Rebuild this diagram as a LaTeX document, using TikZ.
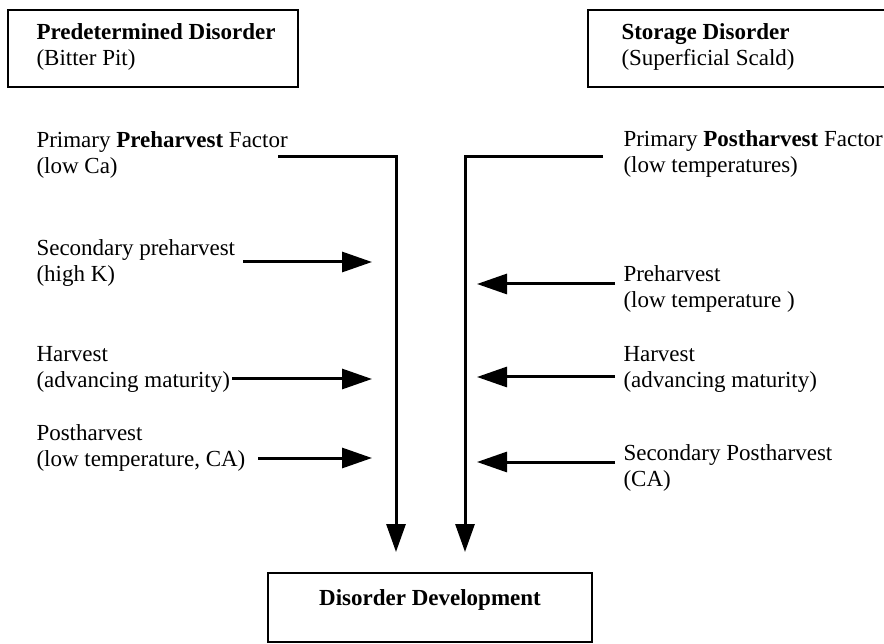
\documentclass[tikz,border=0pt]{standalone}
\usepackage{fontspec}
\setmainfont{Liberation Serif}
\usetikzlibrary{arrows.meta}

\begin{document}
\begin{tikzpicture}[x=1pt, y=-1pt, line width=3pt,
  lbl/.style={anchor=base west, inner sep=0pt, align=left,
    font=\fontsize{23}{26}\selectfont},
  frame/.style={draw, line width=2.6pt},
  flow/.style={-{Triangle[length=30pt, width=20pt]}},
  drop/.style={-{Triangle[length=28pt, width=19pt]}}]
  \useasboundingbox (0,0) rectangle (884,644);
  % boxes
  \draw[frame] (8,10) rectangle (298,87);
  \draw[frame] (588,10) rectangle (900,87);
  \draw[frame] (268,573) rectangle (592,642);
  % base anchor = last line of the label
  \node[lbl] (predet) at (35,66) {\textbf{Predetermined Disorder}\\(Bitter Pit)};
  \node[lbl] (storage) at (620,66) {\textbf{Storage Disorder}\\(Superficial Scald)};
  \node[lbl, anchor=base] (develop) at (430,605) {\textbf{Disorder Development}};
  % left column
  \node[lbl] (prepri) at (35,174) {Primary \textbf{Preharvest} Factor\\(low Ca)};
  \node[lbl] (secpre) at (35,282) {Secondary preharvest\\(high K)};
  \node[lbl] (harvL) at (35,388) {Harvest\\(advancing maturity)};
  \node[lbl] (postL) at (35,466) {Postharvest\\(low temperature, CA)};
  % right column
  \node[lbl] (postpri) at (622,173) {Primary \textbf{Postharvest} Factor\\(low temperatures)};
  \node[lbl] (preR) at (622,308) {Preharvest\\(low temperature )};
  \node[lbl] (harvR) at (622,388) {Harvest\\(advancing maturity)};
  \node[lbl] (secpost) at (622,486) {Secondary Postharvest\\(CA)};
  % connector ends
  \coordinate (startL) at (278,157);
  \coordinate (startR) at (603,157);
  \coordinate (tipL) at (396,552);
  \coordinate (tipR) at (465,552);
  \draw[drop] (startL) -| (tipL);
  \draw[drop] (startR) -| (tipR);
  \draw[flow] (243,262) -- (372,262);
  \draw[flow] (232,379) -- (372,379);
  \draw[flow] (258,458) -- (372,458);
  \draw[flow] (615,284) -- (477,284);
  \draw[flow] (615,377) -- (477,377);
  \draw[flow] (615,462) -- (477,462);
\end{tikzpicture}
\end{document}
